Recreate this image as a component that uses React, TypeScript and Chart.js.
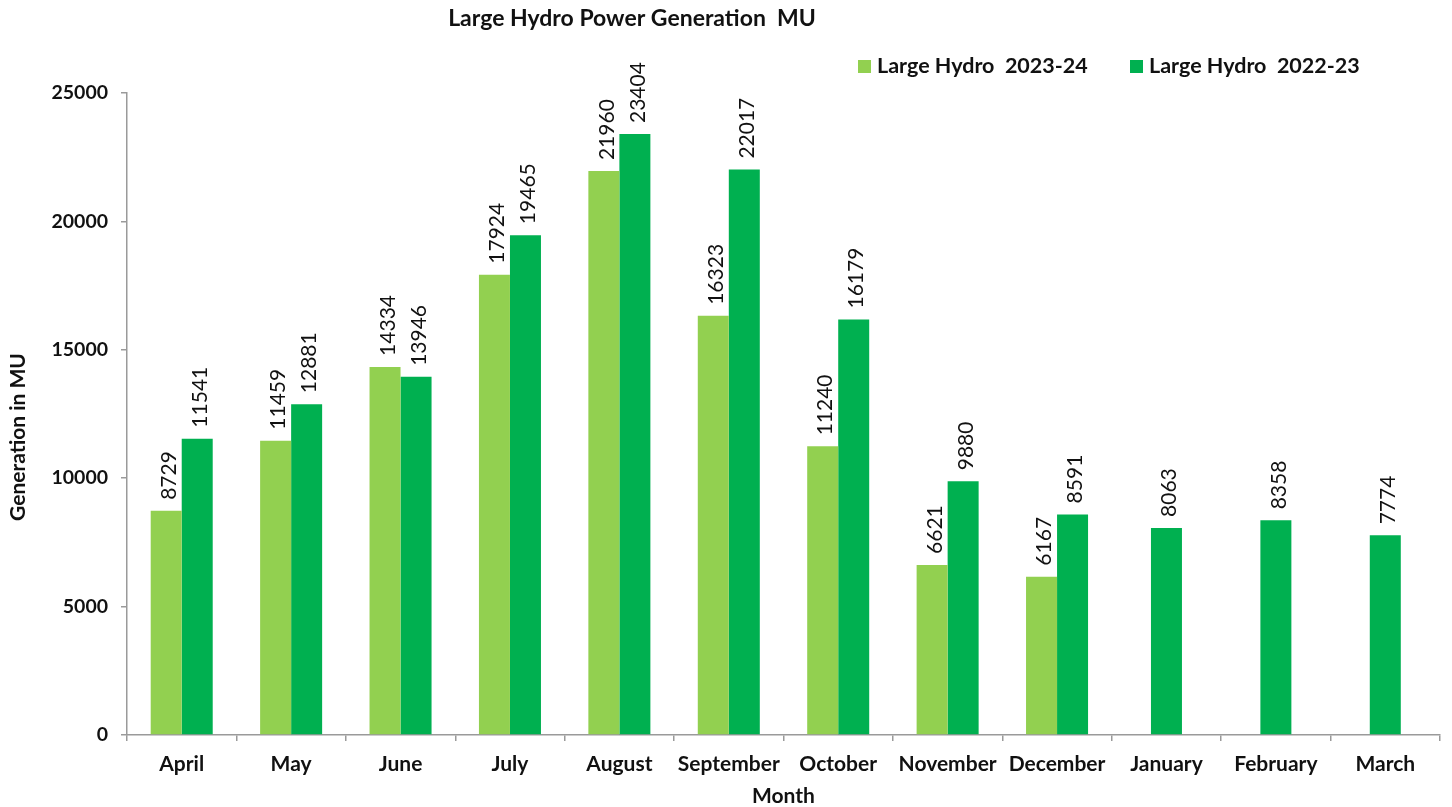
import React, { useEffect, useRef } from "react";
import { Chart, registerables } from "chart.js";

Chart.register(...registerables);

const FONT = "Lato, 'Open Sans', sans-serif";

const TITLE = "Large Hydro Power Generation  MU";
const Y_TITLE = "Generation in MU";
const X_TITLE = "Month";
const months = ["April", "May", "June", "July", "August", "September", "October", "November", "December", "January", "February", "March"];
const series2324Label = "Large Hydro  2023-24";
const series2223Label = "Large Hydro  2022-23";
const gen2324: (number | null)[] = [8729, 11459, 14334, 17924, 21960, 16323, 11240, 6621, 6167, null, null, null];
const gen2223: number[] = [11541, 12881, 13946, 19465, 23404, 22017, 16179, 9880, 8591, 8063, 8358, 7774];
const yTicks = [0, 5000, 10000, 15000, 20000, 25000];

const LIGHT = "#92D050";
const DARK = "#00B050";
const TEXT = "#111111";

const labelPlugin = {
  id: "barLabels",
  afterDatasetsDraw(chart: any) {
    const ctx = chart.ctx;
    ctx.save();
    ctx.font = `21px ${FONT}`;
    chart.data.datasets.forEach((ds: any, di: number) => {
      const meta = chart.getDatasetMeta(di);
      meta.data.forEach((bar: any, i: number) => {
        const v = ds.data[i];
        if (v == null) return;
        const text = String(v);
        const tw = ctx.measureText(text).width;
        ctx.save();
        ctx.translate(bar.x + 3, bar.y - 1);
        ctx.rotate(-Math.PI / 2);
        ctx.fillStyle = "#ffffff";
        ctx.fillRect(0, -11, tw + 16, 22);
        ctx.fillStyle = TEXT;
        ctx.textAlign = "left";
        ctx.textBaseline = "middle";
        ctx.fillText(text, 10, 0);
        ctx.restore();
      });
    });
    ctx.restore();
  },
};

const headerPlugin = {
  id: "header",
  afterDraw(chart: any) {
    const ctx = chart.ctx;
    ctx.save();
    ctx.fillStyle = TEXT;
    ctx.font = `bold 23px ${FONT}`;
    ctx.textAlign = "center";
    ctx.textBaseline = "middle";
    ctx.fillText(TITLE, 632, 19);
    // y axis title
    ctx.save();
    ctx.font = `bold 21px ${FONT}`;
    ctx.translate(18, 437);
    ctx.rotate(-Math.PI / 2);
    ctx.fillText(Y_TITLE, 0, 0);
    ctx.restore();
    // legend
    const items = [
      { x: 858, label: chart.data.datasets[0].label, color: chart.data.datasets[0].backgroundColor },
      { x: 1130, label: chart.data.datasets[1].label, color: chart.data.datasets[1].backgroundColor },
    ];
    ctx.font = `bold 21.5px ${FONT}`;
    ctx.textAlign = "left";
    items.forEach((it) => {
      ctx.fillStyle = it.color;
      ctx.fillRect(it.x, 60, 13, 13);
      ctx.fillStyle = TEXT;
      ctx.fillText(it.label, it.x + 19, 66);
    });
    ctx.restore();
  },
};

export default function App() {
  const ref = useRef<HTMLCanvasElement | null>(null);
  useEffect(() => {
    if (!ref.current) return;
    const chart = new Chart(ref.current, {
      type: "bar",
      data: {
        labels: months,
        datasets: [
          { label: series2324Label, data: gen2324, backgroundColor: LIGHT, barPercentage: 1, categoryPercentage: 0.567, maxBarThickness: 31 },
          { label: series2223Label, data: gen2223, backgroundColor: DARK, barPercentage: 1, categoryPercentage: 0.567, maxBarThickness: 31 },
        ],
      },
      options: {
        animation: false,
        responsive: true,
        maintainAspectRatio: false,
        skipNull: true,
        layout: { padding: { top: 93, right: 12, left: 0, bottom: 0 } },
        plugins: {
          legend: { display: false },
          title: { display: false },
          tooltip: { enabled: false },
        },
        scales: {
          x: {
            offset: true,
            grid: { display: true, drawOnChartArea: false, drawTicks: true, tickLength: 6, color: "#9a9a9a", offset: true, lineWidth: 1.5 },
            border: { color: "#9a9a9a", width: 1.5 },
            ticks: { color: TEXT, font: { family: FONT, size: 21, weight: "bold" }, padding: 11, maxRotation: 0, autoSkip: false },
            title: { display: true, text: X_TITLE, color: TEXT, font: { family: FONT, size: 21, weight: "bold" }, padding: { top: 0, bottom: -2 } },
            afterFit: (s: any) => { s.height = 72; },
          },
          y: {
            min: 0,
            max: 25000,
            afterBuildTicks: (s: any) => { s.ticks = yTicks.map((v) => ({ value: v })); },
            grid: { display: true, drawOnChartArea: false, drawTicks: true, tickLength: 6, color: "#9a9a9a", lineWidth: 1.5 },
            border: { color: "#9a9a9a", width: 1.5 },
            ticks: { color: TEXT, font: { family: FONT, size: 19.5, weight: "bold" }, padding: 13, callback: (v: any) => String(v) },
            title: { display: false },
            afterFit: (s: any) => { s.width = 127; },
          },
        },
      } as any,
      plugins: [labelPlugin, headerPlugin],
    });
    return () => chart.destroy();
  }, []);
  return (
    <div style={{ position: "fixed", left: 0, top: 0, width: 1452, height: 807, background: "#fff" }}>
      <canvas ref={ref} />
    </div>
  );
}
